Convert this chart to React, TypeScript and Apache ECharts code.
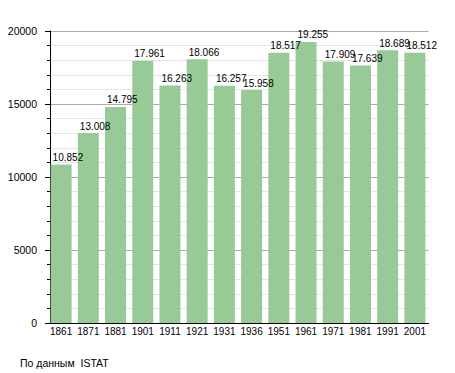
import React, { useEffect, useRef } from "react";
import * as echarts from "echarts";

const years = ["1861", "1871", "1881", "1901", "1911", "1921", "1931", "1936", "1951", "1961", "1971", "1981", "1991", "2001"];
const population = [10852, 13008, 14795, 17961, 16263, 18066, 16257, 15958, 18517, 19255, 17909, 17639, 18689, 18512];
const yTicks = [0, 5000, 10000, 15000, 20000];
const sourceNote = "По данным  ISTAT";

const FONT = "'Liberation Sans', Arial, sans-serif";

function fmtThousands(v: number): string {
  const s = String(Math.round(v));
  return s.replace(/\B(?=(\d{3})+(?!\d))/g, ".");
}

export default function App() {
  const ref = useRef<HTMLDivElement>(null);
  useEffect(() => {
    if (!ref.current) return;
    const chart = echarts.init(ref.current, null, { renderer: "svg" });
    chart.setOption({
      animation: false,
      backgroundColor: "#ffffff",
      textStyle: { fontFamily: FONT },
      grid: { left: 47.5, right: 26.5, top: 31, bottom: 50, containLabel: false },
      xAxis: {
        type: "category",
        data: years,
        axisLine: { show: true, lineStyle: { color: "#000", width: 1 } },
        axisTick: { show: false },
        axisLabel: { color: "#000", fontSize: 10, fontFamily: FONT, margin: 3, interval: 0 },
        splitLine: { show: false },
      },
      yAxis: {
        type: "value",
        min: yTicks[0],
        max: yTicks[yTicks.length - 1],
        interval: yTicks[1] - yTicks[0],
        offset: -2.5,
        axisLine: { show: true, lineStyle: { color: "#000", width: 1 } },
        axisTick: { show: true, length: 5, lineStyle: { color: "#000" } },
        minorTick: { show: true, splitNumber: 5, length: 3, lineStyle: { color: "#000" } },
        axisLabel: {
          color: "#000",
          fontSize: 10.5,
          fontFamily: FONT,
          margin: 13,
          formatter: (v: number) => String(v),
        },
        splitLine: { show: true, lineStyle: { color: "#aaaaaa", width: 1 } },
        minorSplitLine: { show: true, lineStyle: { color: "#e4e4e4", width: 1 } },
      },
      series: [
        {
          type: "bar",
          data: population,
          barWidth: 21,
          itemStyle: { color: "#97ca97" },
          label: {
            show: true,
            position: [2, -2],
            verticalAlign: "bottom",
            align: "left",
            color: "#000",
            fontSize: 10,
            fontFamily: FONT,
            formatter: (p: any) => fmtThousands(p.value),
          },
        },
      ],
      graphic: [
        {
          type: "text",
          left: 20,
          top: 357,
          style: { text: sourceNote, fontSize: 10.5, fontFamily: FONT, fill: "#000" },
        },
      ],
    });
    return () => chart.dispose();
  }, []);
  return (
    <div
      ref={ref}
      style={{ position: "absolute", left: 0, top: 0, width: 455, height: 373 }}
    />
  );
}
